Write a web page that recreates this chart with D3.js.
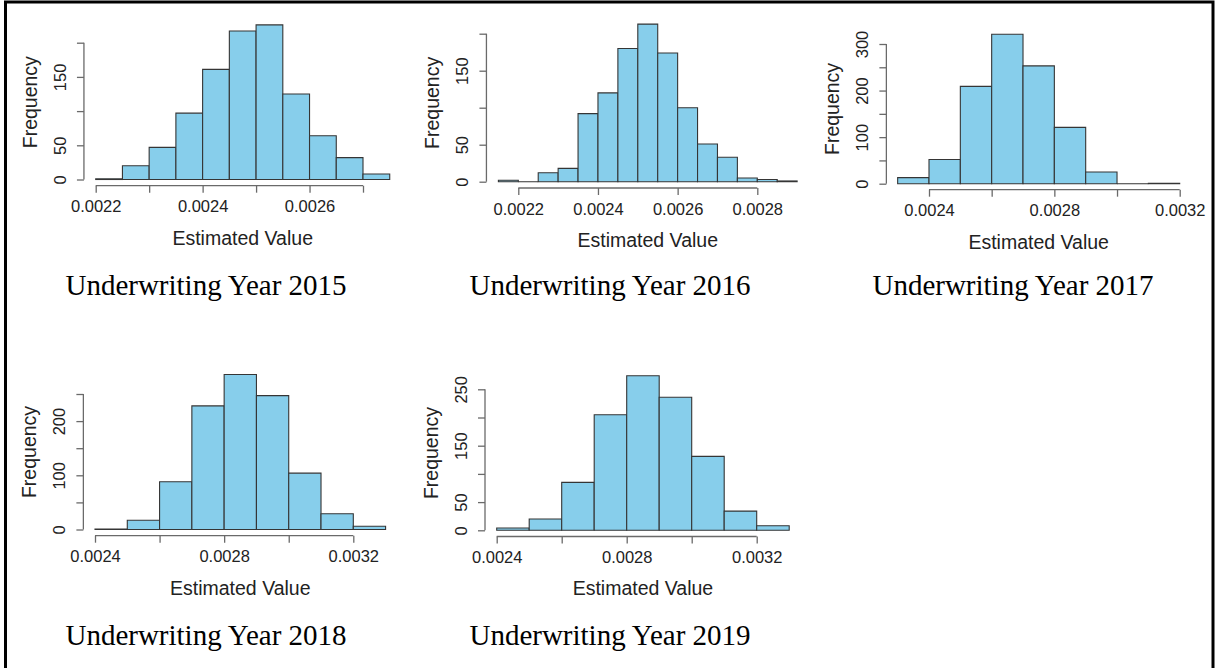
<!DOCTYPE html>
<html>
<head>
<meta charset="utf-8">
<script src="https://cdn.jsdelivr.net/npm/d3@7"></script>
<style>
  html, body { margin: 0; padding: 0; background: #fff; }
  svg { display: block; }
</style>
</head>
<body>
<svg id="chart"></svg>
<script>
"use strict";

// ---- data ----
const years = [2015, 2016, 2017, 2018, 2019];

// first break and bin width of each histogram
const binStart = [0.0022, 0.00215, 0.0023, 0.0024, 0.0024];
const binWidth = [0.00005, 0.00005, 0.0001, 0.0001, 0.0001];

const counts2015 = [1, 20, 47, 97, 161, 217, 226, 125, 64, 32, 8];
const counts2016 = [2, 0, 12, 18, 92, 120, 180, 213, 174, 100, 51, 33, 5, 3, 1];
const counts2017 = [13, 52, 209, 321, 253, 121, 25, 0, 1];
const counts2018 = [1, 17, 88, 228, 286, 247, 104, 29, 6];
const counts2019 = [4, 20, 85, 205, 274, 236, 131, 34, 8];
const counts = [counts2015, counts2016, counts2017, counts2018, counts2019];

// axis ticks, and which of them R actually labelled
const xTicks = [
  [0.0022, 0.0023, 0.0024, 0.0025, 0.0026, 0.0027],
  [0.0022, 0.0024, 0.0026, 0.0028],
  [0.0024, 0.0026, 0.0028, 0.0030, 0.0032],
  [0.0024, 0.0026, 0.0028, 0.0030, 0.0032],
  [0.0024, 0.0026, 0.0028, 0.0030, 0.0032]
];
const xLabels = [
  [0.0022, 0.0024, 0.0026],
  [0.0022, 0.0024, 0.0026, 0.0028],
  [0.0024, 0.0028, 0.0032],
  [0.0024, 0.0028, 0.0032],
  [0.0024, 0.0028, 0.0032]
];
const yTicks = [
  [0, 50, 100, 150, 200],
  [0, 50, 100, 150, 200],
  [0, 50, 100, 150, 200, 250, 300],
  [0, 50, 100, 150, 200, 250],
  [0, 50, 100, 150, 200, 250]
];
const yLabels = [
  [0, 50, 150],
  [0, 50, 150],
  [0, 100, 200, 300],
  [0, 100, 200],
  [0, 50, 150, 250]
];

// ---- layout: pixel range of first/last tick for every panel ----
const layout = [
  { x: [95.7, 363],    y: [179.5, 42.7], titleX: 206, titleY: 295 },
  { x: [518.3, 757.3], y: [181.7, 33.7], titleX: 610, titleY: 295 },
  { x: [929, 1179.7],  y: [183.7, 44],   titleX: 1013, titleY: 295 },
  { x: [95, 353.3],    y: [529.5, 394],  titleX: 206, titleY: 645 },
  { x: [496.7, 756.7], y: [530.3, 389.3], titleX: 610, titleY: 645 }
];

const W = 1216, H = 668;
const svg = d3.select("#chart").attr("width", W).attr("height", H);

// outer frame
svg.append("rect")
  .attr("x", 5.5).attr("y", 2)
  .attr("width", 1207.5).attr("height", 720)
  .attr("fill", "none").attr("stroke", "#000").attr("stroke-width", 3);

const sans = "'Liberation Sans', Arial, Helvetica, sans-serif";
const axisCol = "#6a6a6a";
const fmt = d3.format(".4f");

years.forEach((year, p) => {
  const L = layout[p];
  const xt = xTicks[p], yt = yTicks[p];

  const xScale = d3.scaleLinear().domain([xt[0], xt[xt.length - 1]]).range(L.x);
  const yScale = d3.scaleLinear().domain([yt[0], yt[yt.length - 1]]).range(L.y);

  const bins = counts[p].map((c, i) => ({
    x0: binStart[p] + i * binWidth[p],
    x1: binStart[p] + (i + 1) * binWidth[p],
    n: c
  }));

  // plot region = range of breaks x [0, max count]; R puts axes 4% outside it
  const bx0 = xScale(bins[0].x0), bx1 = xScale(bins[bins.length - 1].x1);
  const maxN = d3.max(counts[p]);
  const by0 = yScale(0), by1 = yScale(maxN);
  const axisX = bx0 - 0.04 * (bx1 - bx0);
  const axisY = by0 + 0.04 * (by0 - by1);

  const g = svg.append("g");

  // bars as closed paths so empty bins still show their flat line
  g.selectAll("path.bar")
    .data(bins)
    .enter()
    .append("path")
    .attr("class", "bar")
    .attr("d", d => {
      const x0 = xScale(d.x0), x1 = xScale(d.x1), y = yScale(d.n);
      return `M${x0},${by0}V${y}H${x1}V${by0}Z`;
    })
    .attr("fill", "#87ceeb")
    .attr("stroke", "#353535")
    .attr("stroke-width", 1.1);

  // x axis
  const xAxis = d3.axisBottom(xScale)
    .tickValues(xt)
    .tickFormat(d => xLabels[p].some(v => Math.abs(v - d) < 1e-9) ? fmt(d) : "")
    .tickSize(7).tickSizeOuter(0).tickPadding(8);

  const gx = g.append("g")
    .attr("transform", `translate(0,${axisY})`)
    .call(xAxis);
  gx.select(".domain").remove();
  gx.append("line")
    .attr("x1", L.x[0]).attr("x2", L.x[1]);
  gx.selectAll("line").attr("stroke", axisCol).attr("stroke-width", 1.3);
  gx.selectAll("text")
    .attr("fill", "#222")
    .style("font-family", sans)
    .style("font-size", "16.5px");

  // y axis, labels parallel to the axis like base R
  const yAxis = d3.axisLeft(yScale)
    .tickValues(yt)
    .tickFormat(d => yLabels[p].includes(d) ? String(d) : "")
    .tickSize(7).tickSizeOuter(0);

  const gy = g.append("g")
    .attr("transform", `translate(${axisX},0)`)
    .call(yAxis);
  gy.select(".domain").remove();
  gy.append("line")
    .attr("y1", L.y[0]).attr("y2", L.y[1]);
  gy.selectAll("line").attr("stroke", axisCol).attr("stroke-width", 1.3);
  gy.selectAll("text")
    .attr("transform", "rotate(-90)")
    .attr("x", 0).attr("y", -24).attr("dy", "0.35em")
    .attr("text-anchor", "middle")
    .attr("fill", "#222")
    .style("font-family", sans)
    .style("font-size", "16.5px");

  // axis titles, centred on the plot region
  g.append("text")
    .attr("x", (bx0 + bx1) / 2)
    .attr("y", axisY + 52)
    .attr("dy", "0.35em")
    .attr("text-anchor", "middle")
    .attr("fill", "#222")
    .style("font-family", sans)
    .style("font-size", "19.5px")
    .text("Estimated Value");

  g.append("text")
    .attr("transform", `translate(${axisX - 54},${(by0 + by1) / 2}) rotate(-90)`)
    .attr("dy", "0.35em")
    .attr("text-anchor", "middle")
    .attr("fill", "#222")
    .style("font-family", sans)
    .style("font-size", "19.5px")
    .text("Frequency");

  // caption under each panel
  svg.append("text")
    .attr("x", L.titleX)
    .attr("y", L.titleY)
    .attr("text-anchor", "middle")
    .attr("fill", "#000")
    .style("font-family", "'Liberation Serif', 'Times New Roman', serif")
    .style("font-size", "29px")
    .text(`Underwriting Year ${year}`);
});
</script>
</body>
</html>
